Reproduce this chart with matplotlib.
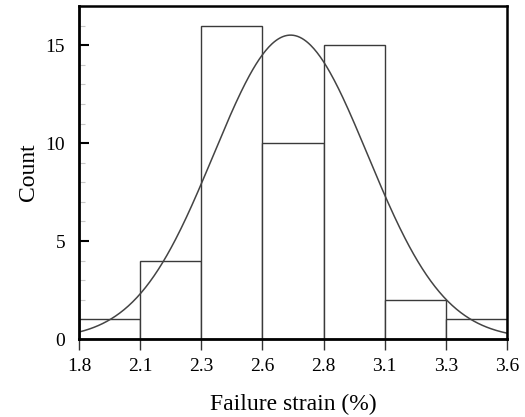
import numpy as np
import matplotlib
matplotlib.use("Agg")
import matplotlib.pyplot as plt
from matplotlib.ticker import MultipleLocator, FixedLocator

# Histogram of failure strain (%)
bin_edges = np.linspace(1.8, 3.6, 8)
counts = [1, 4, 16, 10, 15, 2, 1]
tick_labels = ["1.8", "2.1", "2.3", "2.6", "2.8", "3.1", "3.3", "3.6"]

# Fitted normal distribution
fit_mean = 2.69
fit_std = 0.324

plt.rcParams["font.family"] = ["Liberation Serif", "DejaVu Serif"]

fig = plt.figure(figsize=(5.25, 4.17), dpi=100)
ax = fig.add_axes([0.1505, 0.187, 0.815, 0.7986])

widths = np.diff(bin_edges)
ax.bar(bin_edges[:-1], counts, width=widths, align="edge",
       facecolor="white", edgecolor="#3a3a3a", linewidth=1.0, zorder=2)

x = np.linspace(bin_edges[0], bin_edges[-1], 400)
n_total = sum(counts)
bw = widths[0]
pdf = np.exp(-0.5 * ((x - fit_mean) / fit_std) ** 2) / (fit_std * np.sqrt(2 * np.pi))
ax.plot(x, n_total * bw * pdf, color="#444444", linewidth=1.1, zorder=3)

ax.set_xlim(bin_edges[0], bin_edges[-1])
ax.set_ylim(0, 17)

ax.xaxis.set_major_locator(FixedLocator(bin_edges))
ax.set_xticklabels(tick_labels)
ax.yaxis.set_major_locator(MultipleLocator(5))
ax.yaxis.set_minor_locator(MultipleLocator(1))

ax.tick_params(axis="x", which="major", direction="out", length=8, width=1.0,
               color="#333333", labelsize=14, pad=6)
ax.tick_params(axis="y", which="major", direction="in", length=7, width=1.5,
               color="black", labelsize=14, pad=10)
ax.tick_params(axis="y", which="minor", direction="in", length=4.5, width=0.8,
               color="#c8c8c8")

for side in ["left", "bottom"]:
    ax.spines[side].set_linewidth(2.0)
for side in ["top", "right"]:
    ax.spines[side].set_linewidth(1.8)
for sp in ax.spines.values():
    sp.set_zorder(5)

ax.set_xlabel("Failure strain (%)", fontsize=17, labelpad=13)
ax.set_ylabel("Count", fontsize=17, labelpad=5)

fig.savefig("out.png", dpi=100)
